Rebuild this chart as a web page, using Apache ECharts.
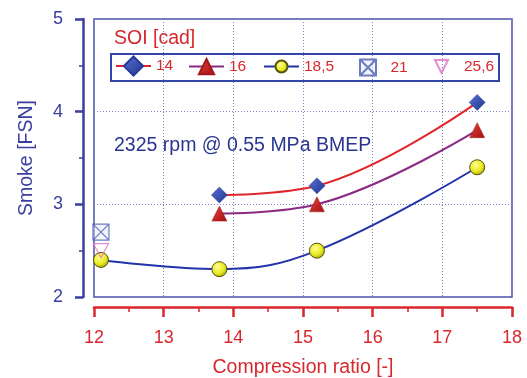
<!DOCTYPE html>
<html><head><meta charset="utf-8">
<script src="https://cdn.jsdelivr.net/npm/echarts@6/dist/echarts.min.js"></script>
<style>html,body{margin:0;padding:0;background:#fff}#c{width:527px;height:378px}</style>
</head><body><div id="c"></div>
<script>
// Data
const xTicks = [12, 13, 14, 15, 16, 17, 18];
const yTicks = [2, 3, 4, 5];
const seriesNames = ['14', '16', '18,5', '21', '25,6'];
const cr14 = [13.8, 15.2, 17.5];
const smoke14 = [3.1, 3.2, 4.1];
const cr16 = [13.8, 15.2, 17.5];
const smoke16 = [2.9, 3.0, 3.8];
const cr185 = [12.1, 13.8, 15.2, 17.5];
const smoke185 = [2.4, 2.3, 2.5, 3.4];
const cr21 = [12.1];
const smoke21 = [2.7];
const cr256 = [12.1];
const smoke256 = [2.5];

const pairs = (xs, ys) => xs.map((x, i) => [x, ys[i]]);
const FONT = "'Liberation Sans', Arial, sans-serif";
const BLUE = '#3a3fa0', RED = '#d8272d';

// legend layout (positions only)
const legendLeft = [115, 188, 263, 359, 434];
const legendIconH = [24, 19, 15, 16, 13];
const legendCenterY = 67.5;
const legends = seriesNames.map((n, i) => ({
  data: [n], left: legendLeft[i],
  top: legendCenterY - Math.max(legendIconH[i] / 2, 9),
  itemWidth: 35, itemHeight: legendIconH[i], padding: 0,
  textStyle: { color: RED, fontSize: 15.5, fontFamily: FONT }
}));

const chart = echarts.init(document.getElementById('c'));
chart.setOption({
  animation: false,
  backgroundColor: '#fff',
  textStyle: { fontFamily: FONT },
  grid: { left: 94, right: 15, top: 19, bottom: 81, outerBoundsMode: 'none', containLabel: false,
    show: true, borderColor: '#4a50a8', borderWidth: 1.5, backgroundColor: 'transparent' },
  graphic: [
    { type: 'text', left: 114, top: 29, style: { text: 'SOI [cad]', fill: RED, font: "19.5px " + FONT } },
    { type: 'text', left: 114, top: 136, style: { text: '2325 rpm @ 0.55 MPa BMEP', fill: '#2a3590', font: "19.5px " + FONT } },
    { type: 'rect', shape: { x: 111, y: 54, width: 388, height: 27 }, style: { fill: 'none', stroke: '#3344aa', lineWidth: 2 }, z: 10 }
  ],
  legend: legends,
  xAxis: {
    type: 'value', min: xTicks[0], max: xTicks[xTicks.length - 1], interval: 1,
    offset: 10,
    name: 'Compression ratio [-]', nameLocation: 'middle', nameGap: 51,
    nameTextStyle: { color: RED, fontSize: 19.5, fontFamily: FONT },
    axisLine: { show: true, lineStyle: { color: RED, width: 2.5 } },
    axisTick: { show: true, length: 10, lineStyle: { color: RED, width: 2.5 } },
    minorTick: { show: true, splitNumber: 2, length: 5, lineStyle: { color: RED, width: 1.5 } },
    axisLabel: { color: RED, fontSize: 18, margin: 22, fontFamily: FONT },
    splitLine: { show: true, lineStyle: { color: '#7a80bb', type: [1, 2], width: 1 } }
  },
  yAxis: {
    type: 'value', min: yTicks[0], max: yTicks[yTicks.length - 1], interval: 1,
    offset: 11,
    name: 'Smoke [FSN]', nameLocation: 'middle', nameGap: 46,
    nameTextStyle: { color: BLUE, fontSize: 19.5, fontFamily: FONT },
    axisLine: { show: true, lineStyle: { color: BLUE, width: 2.5 } },
    axisTick: { show: true, length: 8, lineStyle: { color: BLUE, width: 2.5 } },
    minorTick: { show: true, splitNumber: 2, length: 4, lineStyle: { color: BLUE, width: 1.5 } },
    axisLabel: { color: BLUE, fontSize: 18, margin: 20, fontFamily: FONT },
    splitLine: { show: true, lineStyle: { color: '#7a80bb', type: [1, 2], width: 1 } }
  },
  series: [
    { name: seriesNames[0], type: 'line', data: pairs(cr14, smoke14), smooth: 0.4,
      symbol: 'diamond', symbolSize: 16,
      lineStyle: { color: '#e0262c', width: 2 },
      itemStyle: { color: new echarts.graphic.LinearGradient(0, 0, 1, 1, [{offset: 0, color: '#5a74d0'}, {offset: 1, color: '#1e3290'}]), borderColor: '#2a3a98', borderWidth: 0.5 },
      z: 3 },
    { name: seriesNames[1], type: 'line', data: pairs(cr16, smoke16), smooth: 0.4,
      symbol: 'triangle', symbolSize: 15,
      lineStyle: { color: '#8a2a82', width: 2 },
      itemStyle: { color: new echarts.graphic.LinearGradient(0, 0, 1, 1, [{offset: 0, color: '#f04040'}, {offset: 1, color: '#a01010'}]), borderColor: '#a01818', borderWidth: 0.5 },
      z: 3 },
    { name: seriesNames[2], type: 'line', data: pairs(cr185, smoke185), smooth: 0.4,
      symbol: 'circle', symbolSize: 15,
      lineStyle: { color: '#2233aa', width: 2 },
      itemStyle: { color: new echarts.graphic.RadialGradient(0.4, 0.35, 0.7, [{offset: 0, color: '#ffff90'}, {offset: 0.6, color: '#e8e820'}, {offset: 1, color: '#9a9a10'}]), borderColor: '#55550a', borderWidth: 1 },
      z: 3 },
    { name: seriesNames[3], type: 'scatter', data: pairs(cr21, smoke21),
      symbol: 'path://M0,0 L10,0 L10,10 L0,10 Z M0,0 L10,10 M10,0 L0,10', symbolSize: 16,
      itemStyle: { color: 'rgba(225,230,250,0.6)', borderColor: '#4a5cb0', borderWidth: 1.2 },
      z: 4 },
    { name: seriesNames[4], type: 'scatter', data: pairs(cr256, smoke256),
      symbol: 'path://M0,0 L10,0 L5,10 Z', symbolSize: [15, 14],
      itemStyle: { color: 'rgba(255,255,255,0)', borderColor: '#e070c8', borderWidth: 1.2 },
      z: 4 }
  ]
});
</script></body></html>
